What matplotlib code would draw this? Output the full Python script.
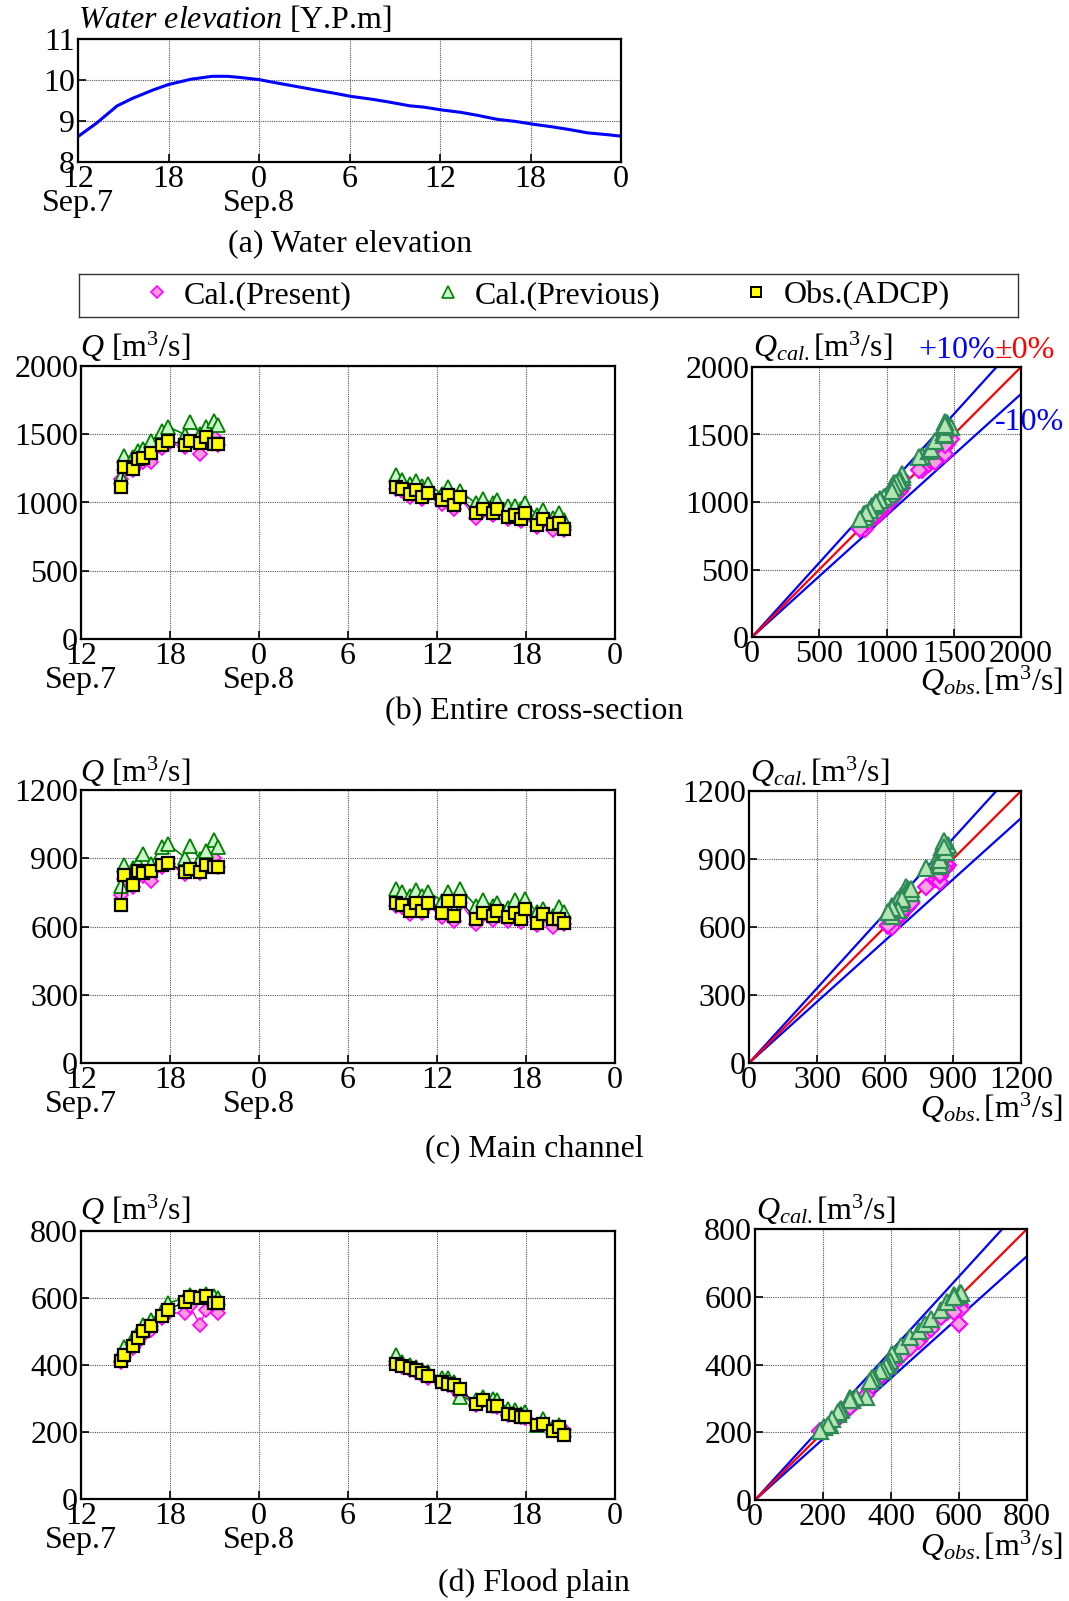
import matplotlib
matplotlib.use("Agg")
from matplotlib import pyplot as plt
from matplotlib.lines import Line2D
import numpy as np

plt.rcParams['font.family'] = ['Liberation Serif', 'DejaVu Serif']
plt.rcParams['mathtext.fontset'] = 'custom'
plt.rcParams['mathtext.rm'] = 'Liberation Serif'
plt.rcParams['mathtext.it'] = 'Liberation Serif:italic'
plt.rcParams['font.size'] = 23

# hours counted from Sep.7 12:00
wl_hour = [0, 1.2, 2.6, 3.6, 5.0, 6.0, 7.5, 8.9, 9.9, 10.8, 12.0, 13.0, 14.5, 15.7, 17.1,
           18.1, 19.5, 20.5, 22.0, 22.9, 24.1, 25.4, 26.6, 27.8, 29.0, 30.2, 31.4, 32.6,
           33.8, 35.0, 36.0]
wl_level = [8.62, 8.94, 9.37, 9.55, 9.76, 9.89, 10.02, 10.09, 10.09, 10.06, 10.01, 9.94,
            9.84, 9.76, 9.67, 9.60, 9.53, 9.47, 9.37, 9.34, 9.27, 9.21, 9.13, 9.04, 8.99,
            8.92, 8.86, 8.79, 8.71, 8.67, 8.63]

t_hour = [2.67, 2.90, 3.48, 3.82, 4.20, 4.70, 5.46, 5.89, 7.01, 7.35, 8.02, 8.43, 8.97, 9.26,
          21.24, 21.62, 22.18, 22.58, 22.97, 23.42, 24.31, 24.76, 25.17, 25.55, 26.63,
          27.08, 27.75, 28.02, 28.81, 29.26, 29.64, 29.93, 30.72, 31.12, 31.84, 32.25, 32.58]
n_first = 14

tick_hours = [0, 6, 12, 18, 24, 30, 36]
tick_names = ["12\nSep.7", "18", "0\nSep.8", "6", "12", "18", "0"]

# (b) entire cross-section
entire_obs = [1115, 1261, 1244, 1317, 1329, 1363, 1424, 1451, 1424, 1451, 1437, 1480, 1432, 1432,
              1115, 1102, 1059, 1090, 1041, 1071, 1017, 1054, 980, 1041, 920, 951, 920, 951,
              895, 907, 876, 924, 834, 878, 839, 851, 805]
entire_present = [1175, 1240, 1235, 1280, 1300, 1298, 1400, 1430, 1410, 1440, 1358, 1470, 1480, 1420,
                  1100, 1085, 1040, 1075, 1025, 1060, 990, 1040, 950, 1030, 890, 935, 905, 940,
                  880, 895, 862, 910, 820, 865, 800, 840, 800]
entire_previous = [1188, 1344, 1330, 1380, 1393, 1449, 1522, 1554, 1498, 1588, 1505, 1554, 1595, 1571,
                   1205, 1163, 1139, 1156, 1120, 1139, 1059, 1112, 1034, 1083, 993, 1022, 998, 1017,
                   973, 978, 949, 993, 912, 944, 888, 920, 871]

# (c) main channel
main_obs = [694, 827, 781, 844, 837, 844, 871, 878, 841, 852, 841, 871, 860, 860,
            702, 694, 669, 702, 669, 702, 658, 713, 648, 713, 632, 658, 644, 669,
            641, 658, 632, 676, 615, 656, 632, 632, 615]
main_present = [739, 810, 775, 825, 820, 798, 860, 875, 830, 845, 835, 880, 900, 860,
                690, 685, 655, 695, 660, 695, 640, 705, 625, 705, 610, 650, 630, 660,
                625, 650, 620, 670, 605, 645, 598, 625, 610]
main_previous = [778, 869, 859, 878, 918, 874, 951, 961, 903, 954, 896, 932, 980, 951,
                 767, 752, 735, 761, 732, 752, 713, 752, 705, 767, 691, 717, 691, 705,
                 683, 717, 683, 723, 664, 676, 647, 686, 664]

# (d) flood plain
flood_obs = [413, 430, 457, 482, 501, 517, 547, 565, 589, 602, 599, 606, 584, 584,
             403, 398, 391, 385, 375, 368, 350, 344, 339, 327, 284, 297, 279, 279,
             254, 250, 245, 245, 220, 225, 203, 216, 191]
flood_present = [410, 425, 450, 470, 490, 505, 540, 555, 555, 575, 520, 565, 575, 555,
                 400, 393, 385, 378, 370, 362, 345, 340, 332, 310, 282, 295, 278, 275,
                 252, 248, 245, 242, 222, 228, 210, 215, 205]
flood_previous = [430, 455, 480, 500, 520, 535, 560, 585, 600, 610, 605, 612, 605, 600,
                  430, 410, 400, 395, 385, 380, 360, 360, 350, 305, 295, 305, 300, 295,
                  270, 265, 255, 260, 222, 240, 215, 220, 205]

W, H = 1069, 1601
fig = plt.figure(figsize=(W / 100, H / 100), dpi=100)


def add_ax(l, t, r, b):
    return fig.add_axes([l / W, 1 - b / H, (r - l) / W, (b - t) / H])


def ftext(x, y, s, **kw):
    fig.text(x / W, 1 - y / H, s, **kw)


def style(ax):
    for sp in ax.spines.values():
        sp.set_linewidth(1.6)
    ax.grid(True, linestyle=(0, (1, 1)), color="#555555", linewidth=0.8)
    ax.set_axisbelow(True)
    ax.tick_params(direction="in", length=6, width=1.2, pad=2, top=False, right=False)


def time_axis(ax):
    ax.set_xlim(0, 36)
    ax.set_xticks(tick_hours)
    ax.set_xticklabels(tick_names)
    for lab in ax.get_xticklabels():
        lab.set_linespacing(0.78)


pink_e, pink_f = "#ff00ff", "#ff99dd"
grn_e, grn_f = "#008000", "#ccf5cc"
grn2_e, grn2_f = "#2e8b57", "#b4e6b4"

# (a) water elevation
ax = add_ax(78, 39, 621, 162)
style(ax)
ax.plot(wl_hour, wl_level, color="#0000ff", lw=2.2)
ax.set_ylim(8, 11)
ax.set_yticks([8, 9, 10, 11])
time_axis(ax)
ftext(78, 20, r"$\it{Water\ elevation}$ [Y.P.m]", va="center", ha="left")
ftext(350, 244, "(a) Water elevation", ha="center", va="center")

# legend box
lax = add_ax(79, 274, 1018, 317)
lax.set_xticks([])
lax.set_yticks([])
for sp in lax.spines.values():
    sp.set_linewidth(1.0)
    sp.set_color("#333333")
handles = [
    Line2D([], [], ls="none", marker="D", ms=6, mfc=pink_f, mec=pink_e, mew=1.2),
    Line2D([], [], ls="none", marker="^", ms=8, mfc=grn_f, mec=grn_e, mew=1.2),
    Line2D([], [], ls="none", marker="s", ms=7, mfc="#ffff00", mec="black", mew=1.4),
]
lax.legend(handles, ["Cal.(Present)", "Cal.(Previous)", "Obs.(ADCP)"], loc="center",
           ncol=3, frameon=False, columnspacing=2.7, handlelength=0.6, handletextpad=0.55,
           bbox_to_anchor=(0.5, 0.5))

panels = [
    (entire_obs, entire_present, entire_previous, 2000, 500,
     (81, 366, 615, 639), (752, 367, 1021, 637), 347, 681, "(b) Entire cross-section", 712),
    (main_obs, main_present, main_previous, 1200, 300,
     (81, 790, 615, 1063), (749, 791, 1021, 1063), 772, 1108, "(c) Main channel", 1149),
    (flood_obs, flood_present, flood_previous, 800, 200,
     (81, 1231, 615, 1499), (755, 1229, 1027, 1500), 1210, 1546, "(d) Flood plain", 1583),
]

for obs, pres, prev, top, step, tbox, sbox, ylab_y, xlab_y, caption, cap_y in panels:
    ax = add_ax(*tbox)
    style(ax)
    for sl in (slice(0, n_first), slice(n_first, None)):
        ax.plot(t_hour[sl], pres[sl], color=pink_e, lw=1.0, marker="D", ms=7,
                mfc=pink_f, mec=pink_e, mew=1.2, zorder=3)
        ax.plot(t_hour[sl], prev[sl], color=grn_e, lw=1.2, marker="^", ms=10,
                mfc=grn_f, mec=grn_e, mew=1.3, zorder=4)
        ax.plot(t_hour[sl], obs[sl], color="black", lw=1.0, marker="s", ms=9,
                mfc="#ffff00", mec="black", mew=1.6, zorder=5)
    ax.set_ylim(0, top)
    ax.set_yticks(np.arange(0, top + 1, step))
    time_axis(ax)
    ftext(tbox[0] - 1, ylab_y, r"$Q$ [m$^3$/s]", ha="left", va="center")
    ftext(534, cap_y, caption, ha="center", va="center")

    sx = add_ax(*sbox)
    style(sx)
    line_x = np.array([0, top])
    sx.plot(line_x, line_x * 1.1, color="#0000ff", lw=1.6, zorder=2)
    sx.plot(line_x, line_x * 0.9, color="#0000ff", lw=1.6, zorder=2)
    sx.plot(line_x, line_x, color="#ff0000", lw=1.6, zorder=2)
    sx.plot(obs, pres, ls="none", marker="D", ms=8, mfc="#f5a3e3", mec=pink_e, mew=1.5, zorder=3)
    sx.plot(obs, prev, ls="none", marker="^", ms=12, mfc=grn2_f, mec=grn2_e, mew=1.6, zorder=4)
    sx.set_xlim(0, top)
    sx.set_ylim(0, top)
    sx.set_xticks(np.arange(0, top + 1, step))
    sx.set_yticks(np.arange(0, top + 1, step))
    ftext(sbox[0] + 1, ylab_y, r"$Q_{cal.}$[m$^3$/s]", ha="left", va="center")
    ftext(1063, xlab_y, r"$Q_{obs.}$[m$^3$/s]", ha="right", va="center")

ftext(918, 351, "+10%", color="#0000ff", ha="left", va="center")
ftext(995, 351, "\u00b10%", color="#ff0000", ha="left", va="center")
ftext(995, 422, "-10%", color="#0000ff", ha="left", va="center")

fig.savefig("out.png", dpi=100)
